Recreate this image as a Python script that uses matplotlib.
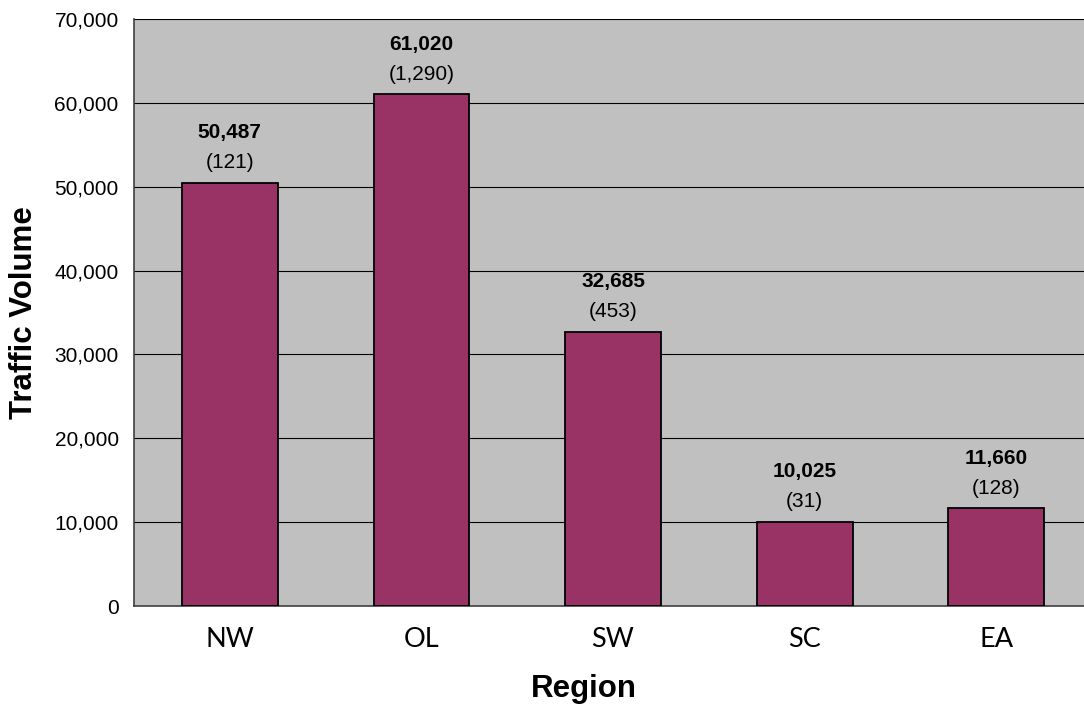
import numpy as np
import matplotlib.pyplot as plt
from matplotlib.ticker import FuncFormatter

# Daten
regions = ['NW', 'OL', 'SW', 'SC', 'EA']
volume = [50487, 61020, 32685, 10025, 11660]
counts = [121, 1290, 453, 31, 128]

fig = plt.figure(figsize=(10.84, 7.05), dpi=100)
ax = fig.add_axes([134 / 1084, 99 / 705, 958 / 1084, 587 / 705])

x = np.arange(len(regions))
ax.set_facecolor('#c0c0c0')
ax.bar(x, volume, width=0.5, color='#993366', edgecolor='black',
       linewidth=1.3, zorder=3)

# Beschriftung der Balken
for xi, v, c in zip(x, volume, counts):
    ax.annotate(f'{v:,}', (xi, v), xytext=(0, 36), textcoords='offset points',
                ha='center', va='center', fontsize=15, fontweight='bold',
                family='Liberation Sans')
    ax.annotate(f'({c:,})', (xi, v), xytext=(0, 14.5), textcoords='offset points',
                ha='center', va='center', fontsize=15, family='Liberation Sans')

ax.set_xlim(-0.5, len(regions) - 0.5)
ax.set_ylim(0, 70000)
ax.set_yticks(np.arange(0, 70001, 10000))
ax.yaxis.set_major_formatter(FuncFormatter(lambda v, p: f'{int(v):,}'))
ax.grid(axis='y', color='black', linewidth=0.8, zorder=1)
ax.set_axisbelow(True)

ax.set_xticks(x)
ax.set_xticklabels(regions, family='Lato', fontsize=19.5)
for lab in ax.get_yticklabels():
    lab.set_family('Liberation Sans')
    lab.set_fontsize(15)
ax.tick_params(axis='y', length=0, pad=11)
ax.tick_params(axis='x', length=0, pad=15)

for s in ['top', 'right']:
    ax.spines[s].set_visible(False)
for s in ['left', 'bottom']:
    ax.spines[s].set_color('#404040')
    ax.spines[s].set_linewidth(1.2)

ax.set_xlabel('Region', family='Liberation Sans', fontsize=22.5,
              fontweight='bold', va='center')
ax.xaxis.set_label_coords(450 / 958, -83 / 587)
ax.set_ylabel('Traffic Volume', family='Liberation Sans', fontsize=22.5,
              fontweight='bold', va='center')
ax.yaxis.set_label_coords(-110 / 958, 0.5)

fig.savefig('out.png', dpi=100)
